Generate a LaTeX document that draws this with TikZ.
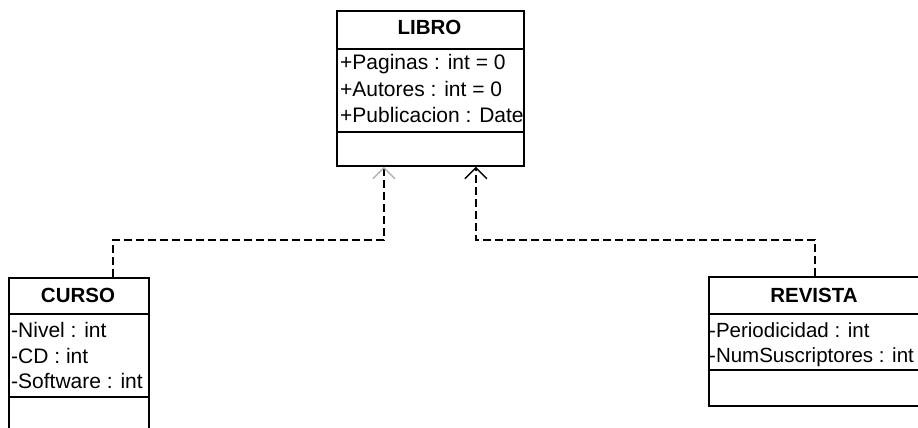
\documentclass[tikz,border=0pt]{standalone}
\usepackage{fontspec}
\setmainfont{Liberation Sans}
\usetikzlibrary{arrows.meta}
\tikzset{
  classbox/.style={draw, line width=1.8pt, inner sep=0pt, anchor=north west},
  sepline/.style={line width=1.6pt},
  attr/.style={anchor=base west, inner sep=0pt, font=\fontsize{21}{24}\selectfont},
  attrs/.style={anchor=base west, inner sep=0pt, font=\fontsize{20.5}{24}\selectfont},
  cname/.style={anchor=base, inner sep=0pt, font=\fontsize{20.5}{24}\selectfont\bfseries},
  realize/.style={line width=1.5pt, dash pattern=on 8pt off 4pt},
  tipdark/.style={-{Straight Barb[length=11pt,width=22pt,line width=1.4pt]}},
  tipfaint/.style={-{Straight Barb[length=11pt,width=22pt,line width=1.4pt,color=black!30]}}
}
\begin{document}
\begin{tikzpicture}[x=1pt,y=-1pt]
\useasboundingbox (0,0) rectangle (918,428);
\clip (0,0) rectangle (918,428);
\fill[white] (0,0) rectangle (918,428);

% LIBRO
\node[classbox, minimum width=187pt, minimum height=155pt] (libro) at (336,10) {};
\draw[sepline] (libro.west |- 0,49) -- (libro.east |- 0,49);
\draw[sepline] (libro.west |- 0,132) -- (libro.east |- 0,132);
\node[cname] (libroname) at (429.5,35) {LIBRO};
\begin{scope}
\clip (libro.north west) rectangle ([xshift=-0.9pt]libro.south east);
\node[attr] (l1) at (340,70) {+Paginas : int = 0};
\node[attr] (l2) at (340,96.5) {+Autores : int = 0};
\node[attr] (l3) at (340,122) {+Publicacion : Date};
\end{scope}

% CURSO
\node[classbox, minimum width=140pt, minimum height=170pt] (curso) at (8,277) {};
\draw[sepline] (curso.west |- 0,314) -- (curso.east |- 0,314);
\draw[sepline] (curso.west |- 0,397) -- (curso.east |- 0,397);
\node[cname] (cursoname) at (78,302) {CURSO};
\node[attr] (c1) at (11,337) {-Nivel : int};
\node[attr] (c2) at (11,363) {-CD : int};
\node[attr] (c3) at (11,388) {-Software : int};

% REVISTA
\node[classbox, minimum width=212pt, minimum height=129pt] (revista) at (708,276) {};
\draw[sepline] (revista.west |- 0,314) -- (revista.east |- 0,314);
\draw[sepline] (revista.west |- 0,370) -- (revista.east |- 0,370);
\node[cname] (revistaname) at (814,302) {REVISTA};
\node[attrs] (r1) at (709,337) {-Periodicidad : int};
\node[attrs] (r2) at (709,362) {-NumSuscriptores : int};

% connectors
\coordinate (cstart) at ([xshift=105pt]curso.north west);
\coordinate (lend) at ([xshift=-46.5pt]libro.south);
\coordinate (rend) at ([xshift=45.5pt]libro.south);
\coordinate (cbend) at (cstart |- 0,240);
\coordinate (rbend) at (revista.north |- 0,240);
\draw[realize, tipfaint] (cstart) -- (cbend) -- (cbend -| lend) -- (lend);
\draw[realize, tipdark] (revista.north) -- (rbend) -- (rbend -| rend) -- (rend);
\end{tikzpicture}
\end{document}
